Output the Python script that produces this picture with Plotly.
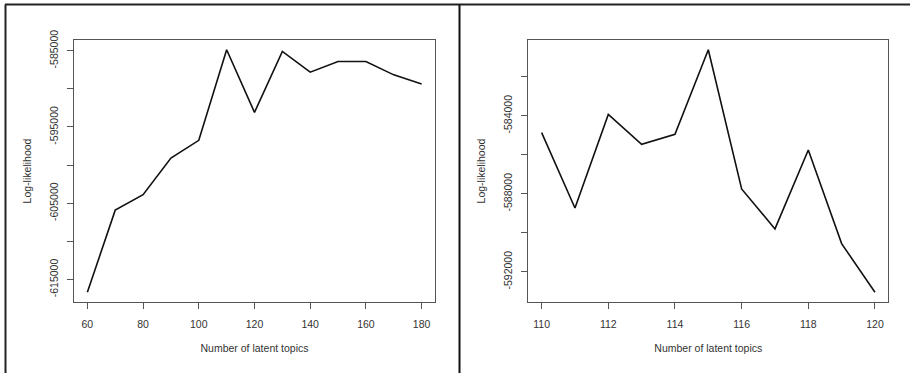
import plotly.graph_objects as go

# Left panel data
topics_a = [60, 70, 80, 90, 100, 110, 120, 130, 140, 150, 160, 170, 180]
loglik_a = [-616670, -605900, -603870, -599080, -596750, -584870, -593090,
            -585090, -587810, -586410, -586410, -588170, -589360]

# Right panel data
topics_b = [110, 111, 112, 113, 114, 115, 116, 117, 118, 119, 120]
loglik_b = [-584860, -588730, -583930, -585460, -584945, -580610, -587750,
            -589800, -585755, -590555, -593050]

# Tick definitions
xticks_a = [60, 80, 100, 120, 140, 160, 180]
yticks_a = [-585000, -590000, -595000, -600000, -605000, -610000, -615000]
ytext_a = ["-585000", "", "-595000", "", "-605000", "", "-615000"]
xticks_b = [110, 112, 114, 116, 118, 120]
yticks_b = [-582000, -584000, -586000, -588000, -590000, -592000]
ytext_b = ["", "-584000", "", "-588000", "", "-592000"]

x_title = "Number of latent topics"
y_title = "Log-likelihood"

W, H = 910, 373
FONT = dict(family="Liberation Sans, Arial, sans-serif", size=10.5, color="#333")

def pad(vals, frac=0.04):
    lo, hi = min(vals), max(vals)
    d = (hi - lo) * frac
    return [lo - d, hi + d]

fig = go.Figure()
fig.add_trace(go.Scatter(x=topics_a, y=loglik_a, mode="lines",
                         line=dict(color="#111", width=1.6), xaxis="x", yaxis="y",
                         showlegend=False, hoverinfo="skip"))
fig.add_trace(go.Scatter(x=topics_b, y=loglik_b, mode="lines",
                         line=dict(color="#111", width=1.6), xaxis="x2", yaxis="y2",
                         showlegend=False, hoverinfo="skip"))

axis_common = dict(showgrid=False, zeroline=False, showline=True, mirror=True,
                   linecolor="#555", linewidth=1, ticks="outside", ticklen=6,
                   tickcolor="#555", tickwidth=1, tickfont=FONT, automargin=False)

ydom = [1 - 302 / H, 1 - 40 / H]
xax = dict(ticklabelstandoff=6, title=dict(text=x_title, font=FONT, standoff=16), **axis_common)
yax = dict(tickangle=-90, ticklabelstandoff=5,
           title=dict(text=y_title, font=FONT, standoff=14), **axis_common)

fig.update_layout(
    width=W, height=H, margin=dict(l=0, r=0, t=0, b=0, autoexpand=False),
    paper_bgcolor="white", plot_bgcolor="white", font=FONT,
    xaxis=dict(domain=[74 / W, 435 / W], range=pad(topics_a), tickvals=xticks_a,
               anchor="y", **xax),
    yaxis=dict(domain=ydom, range=pad(loglik_a), tickvals=yticks_a, ticktext=ytext_a,
               anchor="x", **yax),
    xaxis2=dict(domain=[528.3 / W, 888.3 / W], range=pad(topics_b), tickvals=xticks_b,
                anchor="y2", **xax),
    yaxis2=dict(domain=ydom, range=pad(loglik_b), tickvals=yticks_b, ticktext=ytext_b,
                anchor="x2", **yax),
    shapes=[
        dict(type="line", xref="paper", yref="paper", x0=5 / W, x1=1, y0=1 - 4.5 / H, y1=1 - 4.5 / H,
             line=dict(color="#222", width=2)),
        dict(type="line", xref="paper", yref="paper", x0=5.5 / W, x1=5.5 / W, y0=0, y1=1 - 4.5 / H,
             line=dict(color="#222", width=2)),
        dict(type="line", xref="paper", yref="paper", x0=459.5 / W, x1=459.5 / W, y0=0, y1=1 - 4.5 / H,
             line=dict(color="#111", width=2)),
    ],
)

fig.write_html("out.html", config={"displayModeBar": False},
               post_script="document.body.style.margin='0';document.body.style.padding='0';")
